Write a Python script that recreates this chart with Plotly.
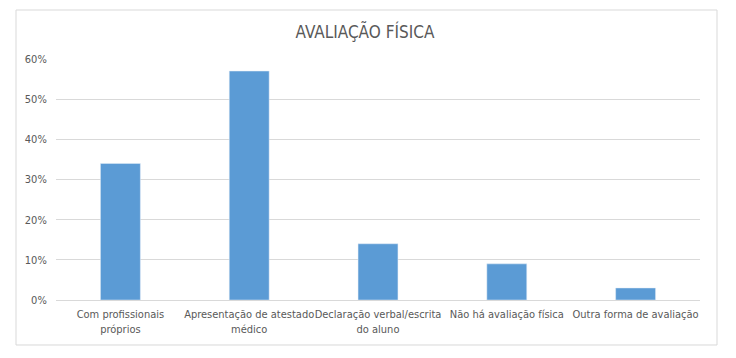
import plotly.graph_objects as go

categories = ["Com profissionais<br>próprios", "Apresentação de atestado<br>médico",
              "Declaração verbal/escrita<br>do aluno", "Não há avaliação física",
              "Outra forma de avaliação"]
values = [0.34, 0.57, 0.14, 0.09, 0.03]
y_ticks = [0, 0.1, 0.2, 0.3, 0.4, 0.5, 0.6]
y_tick_labels = ["0%", "10%", "20%", "30%", "40%", "50%", "60%"]

FONT = "Liberation Sans Narrow, Arial Narrow, DejaVu Sans Condensed, sans-serif"

fig = go.Figure(go.Bar(x=categories, y=values, marker_color="#5B9BD5",
                       hoverinfo="x+y"))

fig.update_layout(
    width=736, height=358,
    margin=dict(l=48, r=44, t=51, b=66),
    paper_bgcolor="white", plot_bgcolor="white",
    bargap=0.69,
    showlegend=False,
    title=dict(text="AVALIAÇÃO FÍSICA", x=0.485, xanchor="center", y=0.933, yanchor="middle",
               font=dict(family=FONT, size=17, color="#595959")),
    font=dict(family=FONT, size=11, color="#595959"),
    xaxis=dict(showline=True, linecolor="#d9d9d9", linewidth=1, ticks="",
               tickangle=0, automargin=False, ticklabelstandoff=4,
               tickfont=dict(size=11, color="#595959")),
    yaxis=dict(range=[0, 0.6], tickvals=y_ticks, ticktext=y_tick_labels,
               showgrid=True, gridcolor="#d9d9d9", gridwidth=1, zeroline=False,
               ticks="outside", ticklen=6, tickcolor="white", automargin=False,
               tickfont=dict(size=11, color="#595959")),
    shapes=[dict(type="rect", xref="paper", yref="paper",
                 x0=-0.0621, x1=1.0264, y0=-0.1867, y1=1.2033,
                 line=dict(color="#d9d9d9", width=1), fillcolor="rgba(0,0,0,0)",
                 layer="below")],
)

fig.write_html("out.html")
